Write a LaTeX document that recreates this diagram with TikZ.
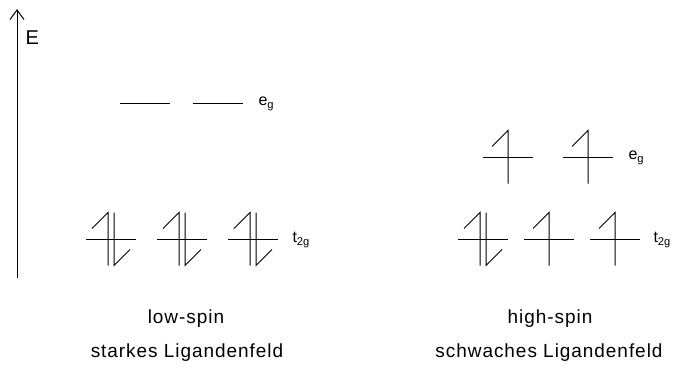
\documentclass[tikz,border=0pt]{standalone}
\usepackage{fontspec}
\setmainfont{Liberation Sans}
\newfontfamily\spaced[LetterSpace=5]{Liberation Sans}
\begin{document}
\begin{tikzpicture}[x=1pt,y=-1pt,line width=1pt,
  lbl/.style={inner sep=0pt,font=\spaced\fontsize{19}{21}\selectfont},
  sub/.style={inner sep=0pt,anchor=west,font=\fontsize{16}{18}\selectfont},
  pics/emptyorb/.style={code={\draw (-25,0) -- (25,0);}},
  pics/uporb/.style={code={
    \draw (-25,0) -- (25,0);
    \draw (0,26) -- (0,-27) -- (-16,-11);}},
  pics/pairorb/.style={code={
    \draw (-25,0) -- (25,0);
    \draw (-3,26) -- (-3,-27) -- (-19,-11);
    \draw (3,-27) -- (3,26) -- (19,10);}}]
\useasboundingbox (0,0) rectangle (673,367);
% energy axis
\coordinate (axbot) at (17,278);
\coordinate (axtop) at (17,10);
\draw (axbot) -- (axtop);
\draw (10,19.5) -- (axtop) -- (24,19.5);
\node[inner sep=0pt,anchor=north west,font=\fontsize{20}{22}\selectfont] (E) at (25,30) {E};
% low-spin
\pic at (145,103) {emptyorb};
\pic at (218,103) {emptyorb};
\node[sub] (eg1) at (258,104) {e\textsubscript{g}};
\pic at (111,239.5) {pairorb};
\pic at (182,239.5) {pairorb};
\pic at (253,239.5) {pairorb};
\node[sub] (t2g1) at (292,240) {t\textsubscript{2g}};
% high-spin
\pic at (508,157.5) {uporb};
\pic at (588,157.5) {uporb};
\node[sub] (eg2) at (628,158) {e\textsubscript{g}};
\pic at (483,239.5) {pairorb};
\pic at (549,239.5) {uporb};
\pic at (615,239.5) {uporb};
\node[sub] (t2g2) at (653,240) {t\textsubscript{2g}};
% captions
\node[lbl] (ls) at (186,319) {low-spin};
\node[lbl] (sl) at (187,353) {starkes Ligandenfeld};
\node[lbl] (hs) at (550,319) {high-spin};
\node[lbl] (wl) at (549,353) {schwaches Ligandenfeld};
\end{tikzpicture}
\end{document}
